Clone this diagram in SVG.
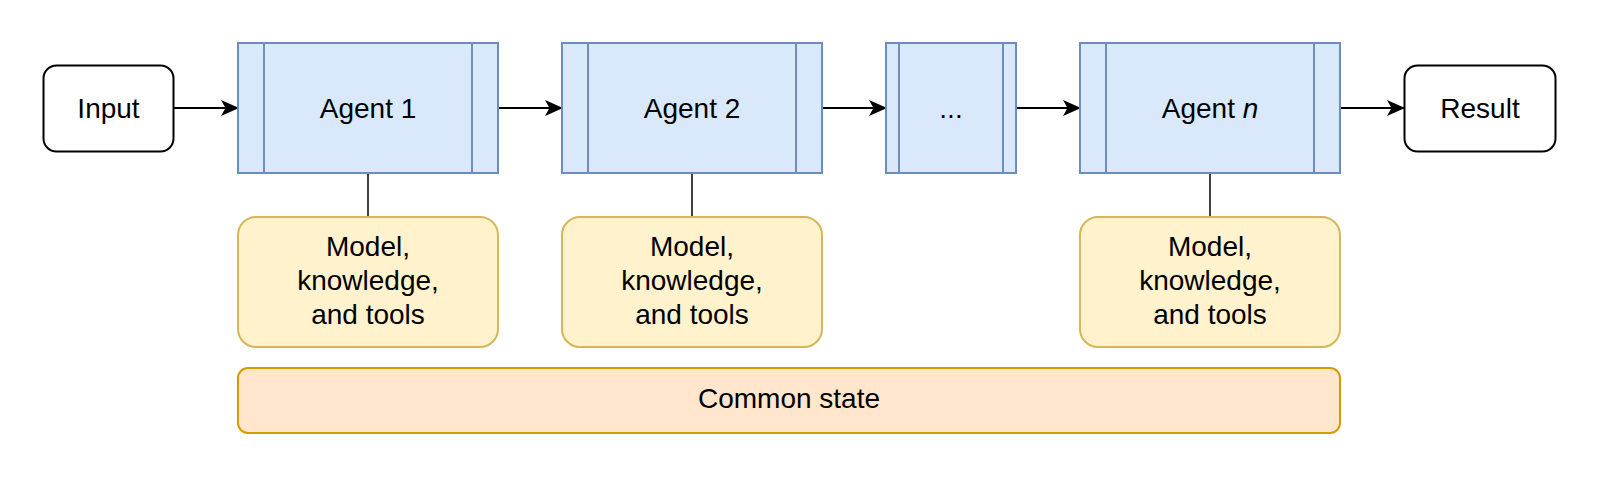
<svg xmlns="http://www.w3.org/2000/svg" width="1600" height="478" viewBox="0 0 1600 478">
<defs>
<style>
.t{font-family:"Liberation Sans",Arial,Helvetica,sans-serif;font-size:28px;fill:#000;text-anchor:middle}
.io{fill:#fff;stroke:#000;stroke-width:2}
.ag{fill:#dae8fc;stroke:#6c8ebf;stroke-width:2}
.agl{fill:none;stroke:#6c8ebf;stroke-width:2}
.res{fill:#fff2cc;stroke:#d6b656;stroke-width:2}
.cs{fill:#ffe6cc;stroke:#d79b00;stroke-width:2}
.arr{fill:none;stroke:#000;stroke-width:2;marker-end:url(#ah)}
.ln{fill:none;stroke:#000;stroke-width:1.5}
</style>
<marker id="ah" markerUnits="userSpaceOnUse" viewBox="0 0 18 16" refX="17" refY="8" markerWidth="18" markerHeight="16" orient="auto">
<path d="M0,0 L18,8 L0,16 L4.5,8 Z" fill="#000"/>
</marker>
</defs>
<rect width="1600" height="478" fill="#fff"/>

<g id="connectors">
<line class="arr" x1="174" y1="108" x2="238" y2="108"/>
<line class="arr" x1="498" y1="108" x2="562" y2="108"/>
<line class="arr" x1="822" y1="108" x2="886" y2="108"/>
<line class="arr" x1="1016" y1="108" x2="1080" y2="108"/>
<line class="arr" x1="1340" y1="108" x2="1404" y2="108"/>
<line class="ln" x1="368" y1="173" x2="368" y2="217"/>
<line class="ln" x1="692" y1="173" x2="692" y2="217"/>
<line class="ln" x1="1210" y1="173" x2="1210" y2="217"/>
</g>

<g id="input">
<rect class="io" x="43.5" y="65.5" width="130" height="86" rx="13"/>
<text class="t" x="108.5" y="118">Input</text>
</g>

<g id="agent1">
<rect class="ag" x="238" y="43" width="260" height="130"/>
<line class="agl" x1="264" y1="43" x2="264" y2="173"/>
<line class="agl" x1="472" y1="43" x2="472" y2="173"/>
<text class="t" x="368" y="118">Agent 1</text>
</g>

<g id="agent2">
<rect class="ag" x="562" y="43" width="260" height="130"/>
<line class="agl" x1="588" y1="43" x2="588" y2="173"/>
<line class="agl" x1="796" y1="43" x2="796" y2="173"/>
<text class="t" x="692" y="118">Agent 2</text>
</g>

<g id="agentdots">
<rect class="ag" x="886" y="43" width="130" height="130"/>
<line class="agl" x1="899" y1="43" x2="899" y2="173"/>
<line class="agl" x1="1003" y1="43" x2="1003" y2="173"/>
<text class="t" x="951" y="118">...</text>
</g>

<g id="agentn">
<rect class="ag" x="1080" y="43" width="260" height="130"/>
<line class="agl" x1="1106" y1="43" x2="1106" y2="173"/>
<line class="agl" x1="1314" y1="43" x2="1314" y2="173"/>
<text class="t" x="1210" y="118">Agent <tspan font-style="italic">n</tspan></text>
</g>

<g id="result">
<rect class="io" x="1404.5" y="65.5" width="151" height="86" rx="13"/>
<text class="t" x="1480" y="118">Result</text>
</g>

<g id="res1">
<rect class="res" x="238" y="217" width="260" height="130" rx="18"/>
<text class="t" x="368" y="256">Model,</text>
<text class="t" x="368" y="290">knowledge,</text>
<text class="t" x="368" y="324">and tools</text>
</g>

<g id="res2">
<rect class="res" x="562" y="217" width="260" height="130" rx="18"/>
<text class="t" x="692" y="256">Model,</text>
<text class="t" x="692" y="290">knowledge,</text>
<text class="t" x="692" y="324">and tools</text>
</g>

<g id="resn">
<rect class="res" x="1080" y="217" width="260" height="130" rx="18"/>
<text class="t" x="1210" y="256">Model,</text>
<text class="t" x="1210" y="290">knowledge,</text>
<text class="t" x="1210" y="324">and tools</text>
</g>

<g id="commonstate">
<rect class="cs" x="238" y="368" width="1102" height="65" rx="10"/>
<text class="t" x="789" y="408">Common state</text>
</g>
</svg>
